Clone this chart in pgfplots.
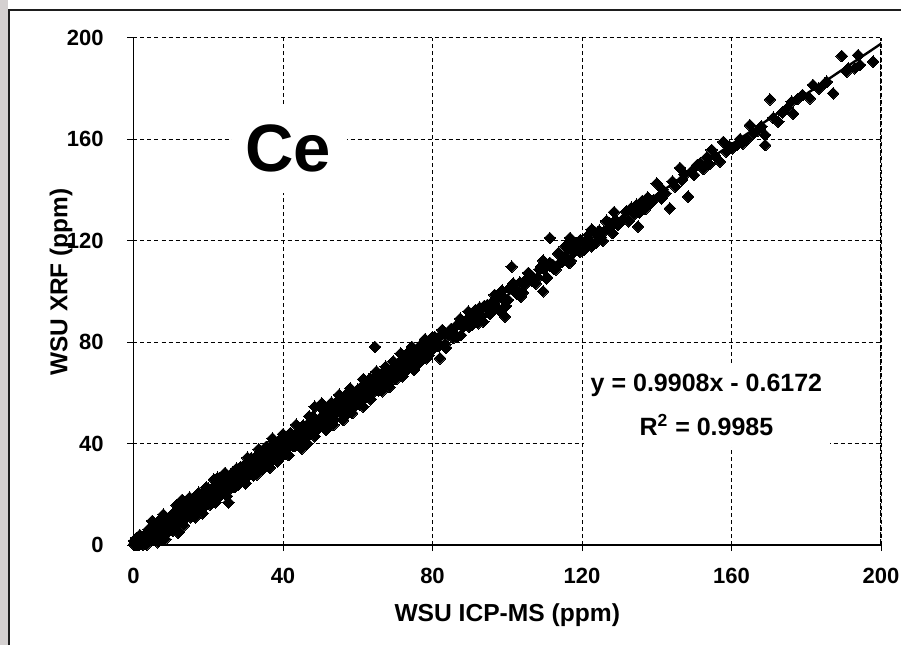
\documentclass[border=0pt]{standalone}
\usepackage{fontspec}
\setmainfont{Liberation Sans}
\usepackage{pgfplots}
\pgfplotsset{compat=1.18}
\definecolor{frameGray}{RGB}{212,208,208}
\definecolor{frameLine}{RGB}{30,30,30}

\begin{document}
\begin{tikzpicture}
\useasboundingbox (0,0) rectangle (450.5pt,-322.5pt);
% window edge on the left and top
\fill[frameGray] (0,0) rectangle (4.1pt,-322.5pt);
\draw[frameLine, line width=1pt] (4.65pt,-322.5pt) -- (4.65pt,-4.85pt) -- (450.5pt,-4.85pt);
\begin{axis}[
  at={(66.75pt,-272.5pt)}, anchor=south west,
  scale only axis, width=373.75pt, height=253.75pt,
  xmin=0, xmax=200, ymin=0, ymax=200,
  xtick={0,40,...,200}, ytick={0,40,...,200},
  axis x line=bottom, axis y line=left,
  axis line style={-, black, line width=0.6pt},
  tick align=outside, major tick length=3pt,
  tick style={black, line width=0.5pt},
  grid=major,
  grid style={black, dash pattern=on 2pt off 1.5pt, line width=0.5pt},
  /pgf/number format/assume math mode=true,
  tick label style={font=\fontsize{11}{13}\selectfont\bfseries, inner sep=0pt},
  xticklabel style={anchor=north},
  yticklabel style={anchor=east},
  xticklabel shift=8.5pt,
  yticklabel shift=11.75pt,
  xlabel={WSU ICP-MS (ppm)},
  ylabel={WSU XRF (ppm)},
  xlabel style={at={(axis description cs:0.5,-0.151)}, anchor=base, inner sep=0pt,
    font=\fontsize{12.3}{14}\selectfont\bfseries},
  ylabel style={at={(axis description cs:-0.0885,0.518)}, anchor=base, inner sep=0pt,
    font=\fontsize{12.2}{14}\selectfont\bfseries},
]
\addplot[only marks, mark=square*, mark size=2.05pt,
  mark options={rotate=45, draw=black, fill=black, line width=0pt}] coordinates {
(0.3,0.0)(0.6,0.1)(0.9,1.15)(1.2,0.15)(1.5,0.3)(1.8,2.4)(2.1,1.45)(2.4,0.95)(2.7,3.5)(3.0,0.9)(3.3,2.5)(3.6,3.6)(3.9,1.25)
(0.5,0.6)(1.0,0.1)(0.2,1.6)(1.7,3.9)(2.5,0.2)(0.8,2.8)(0.1,0.3)
(4.2,4.1)(4.5,6.0)(4.8,3.0)(5.1,1.9)(5.4,5.7)(5.7,7.9)(6.0,4.9)(6.3,2.5)(6.6,7.6)(6.9,4.4)(7.2,6.8)(7.5,9.2)(7.8,5.1)(8.1,6.5)(8.4,10.9)(8.7,4.4)(9.0,9.2)(9.3,10.1)(9.6,6.2)(9.9,9.1)
(10.2,11.5)(10.5,8.4)(10.8,6.9)(11.1,13.1)(11.4,11.1)(11.7,8.8)(12.0,12.5)(12.3,11.0)(12.6,15.3)(12.9,9.2)(13.2,11.5)(13.5,14.6)(13.8,13.1)(14.1,10.8)(14.4,16.0)(14.7,12.3)(15.0,15.0)(15.3,10.9)(15.6,16.0)(15.9,18.0)
(16.2,14.7)(16.5,13.7)(16.8,16.6)(17.1,18.0)(17.4,13.4)(17.7,19.1)(18.0,16.0)(18.3,19.7)(18.6,14.6)(18.9,19.8)(19.2,19.0)(19.5,16.7)(19.8,18.3)(20.1,22.2)(20.4,20.8)(20.7,16.3)(21.0,21.0)(21.3,18.9)(21.6,23.2)(21.9,18.6)
(22.2,21.5)(22.5,23.6)(22.8,21.1)(23.1,19.4)(23.4,26.1)(23.7,22.4)(24.0,24.5)(24.3,21.4)(24.6,24.3)(24.9,26.9)(25.2,21.3)(25.5,23.4)(25.8,27.1)(26.1,25.3)(26.4,23.0)(26.7,27.5)(27.0,27.2)(27.3,23.0)(27.6,30.1)(27.9,26.3)
(28.2,25.5)(28.5,30.2)(28.8,28.4)(29.1,26.6)(29.4,30.4)(29.7,25.9)(30.0,28.9)(30.3,32.5)(30.6,30.9)(30.9,27.7)(31.2,29.4)(31.5,33.0)(31.8,31.7)(32.1,27.5)(32.4,33.1)(32.7,31.8)(33.0,29.5)(33.3,35.6)(33.6,31.4)(33.9,33.3)
(34.2,36.1)(34.5,30.4)(34.8,33.4)(35.1,36.3)(35.4,32.4)(35.7,35.8)(36.0,34.0)(36.3,36.4)(36.6,37.8)(36.9,32.8)(37.2,36.6)(37.5,39.8)(37.8,36.9)(38.1,33.5)(38.4,39.9)(38.7,35.5)(39.0,41.2)(39.3,35.5)(39.6,37.1)(39.9,41.6)(40.2,38.6)
(40.6,35.9)(41.0,41.4)(41.4,40.2)(41.8,39.3)(42.2,43.8)(42.6,39.3)(43.0,41.3)(43.4,39.3)(43.8,44.5)(44.2,40.5)(44.6,41.8)(45.0,40.2)(45.4,47.1)(45.8,42.6)(46.2,46.7)(46.6,47.6)(47.0,43.6)(47.4,45.6)(47.8,49.3)(48.2,45.6)
(48.6,44.7)(49.0,49.3)(49.4,48.9)(49.8,47.6)(50.2,50.1)(50.6,49.1)(51.0,51.6)(51.4,50.6)(51.8,48.7)(52.2,54.3)(52.6,52.4)(53.0,49.2)(53.4,54.3)(53.8,49.5)(54.2,53.5)(54.6,54.7)(55.0,57.3)(55.4,53.3)(55.8,54.7)(56.2,57.4)
(56.6,56.2)(57.0,57.0)(57.4,55.5)(57.8,57.2)(58.2,53.8)(58.6,56.2)(59.0,59.4)(59.4,55.6)(59.8,58.6)(60.2,61.1)(60.6,58.1)(61.0,56.7)(61.4,63.0)(61.8,61.1)(62.2,58.9)(62.6,62.7)(63.0,61.3)(63.4,65.7)(63.8,59.7)(64.2,62.1)
(64.6,65.3)(65.0,63.9)(65.4,61.7)(65.8,67.0)(66.2,63.4)(66.6,66.2)(67.0,62.2)(67.4,67.4)(67.8,69.5)(68.2,66.3)(68.6,65.4)(69.0,68.4)(69.4,69.9)(69.8,65.4)(70.2,71.2)(70.6,68.2)(71.0,70.7)(71.4,68.0)(71.8,72.6)(72.2,70.4)
(72.6,68.1)(73.0,74.5)(73.4,72.4)(73.8,71.2)(74.2,76.1)(74.6,70.7)(75.0,73.7)(75.4,75.7)(75.8,70.8)(76.2,75.7)(76.6,77.7)(77.0,74.8)(77.4,73.8)(77.8,77.7)(78.2,80.0)(78.6,77.1)(79.0,74.8)(79.4,80.0)(79.8,76.9)(80.2,79.4)
(81.0,80.1)(81.8,78.5)(82.6,83.3)(83.4,79.2)(84.2,82.6)(85.0,85.2)(85.8,83.2)(86.6,82.0)(87.4,89.2)(88.2,86.0)(89.0,88.6)(89.8,86.0)(90.6,89.4)(91.4,92.5)(92.2,87.4)(93.0,90.0)(93.8,94.2)(94.6,92.9)(95.4,91.1)(96.2,96.1)
(97.0,96.3)(97.8,92.6)(98.6,100.2)(99.4,96.9)(100.2,96.6)(101.0,101.8)(101.8,100.5)(102.6,99.2)(103.4,103.5)(104.2,99.5)(105.0,103.0)(105.8,107.1)(106.6,106.0)(107.4,103.3)(108.2,105.5)(109.0,109.6)(109.8,108.8)(110.6,105.1)(111.4,111.2)(112.2,110.4)
(113.0,108.6)(113.8,115.2)(114.6,111.5)(115.4,113.9)(116.2,117.2)(117.0,112.0)(117.8,115.5)(118.6,118.9)(119.4,115.5)(120.2,119.4)(121.0,118.1)(121.8,122.3)(122.6,117.7)(123.4,123.4)(124.2,123.1)(125.0,121.3)(125.8,123.4)(126.6,127.8)(127.4,126.9)(128.2,122.9)
(129.0,128.1)(129.8,126.5)
(131.0,128.5)(131.8,131.4)(132.5,127.6)(133.2,132.9)(133.9,130.2)(134.6,134.1)(135.4,131.0)(136.1,135.6)(136.9,132.4)(137.6,137.0)(138.4,134.8)(139.1,135.9)(140.0,142.5)(140.7,137.4)(141.5,140.1)(141.3,136.6)
(142.3,138.6)(143.5,132.7)(144.2,143.3)(145.0,141.2)(146.2,148.6)(146.8,143.9)(147.5,146.0)(148.4,137.3)(149.2,147.1)(150.0,145.8)
(150.8,149.7)(151.6,150.4)(152.5,148.2)(153.3,152.6)(154.1,150.1)(154.7,155.7)(155.6,153.4)(156.9,151.1)(157.8,158.9)(158.6,155.0)(159.4,157.2)(160.2,156.3)
(161.4,157.6)(162.3,160.0)(163.0,158.2)(164.0,159.6)(164.9,165.5)(165.8,162.1)(167.0,163.3)(168.0,165.0)(169.0,161.6)(169.0,157.6)(170.3,175.6)
(171.2,168.4)(172.5,166.8)(173.6,170.5)(174.8,172.0)(176.1,174.7)(176.5,170.0)(177.7,175.8)(179.0,177.4)(181.0,176.0)(181.8,181.3)(183.4,179.9)(185.0,182.0)(185.5,182.6)(187.2,178.0)
(189.5,192.7)(190.8,186.5)(191.2,187.8)(193.0,187.9)(193.9,193.1)(194.4,189.2)(197.9,190.5)
(25.4,16.8)(13.0,17.8)(22.5,26.5)(12.0,4.8)(37.2,42.0)(45.0,38.0)(48.5,54.5)(50.4,55.8)(56.1,49.2)(61.5,54.5)(64.6,78.1)
(82.0,73.6)(99.4,90.0)(101.2,109.7)(109.6,100.0)(111.4,121.0)(116.8,121.0)(135.0,125.5)
(2.0,3.3)(2.5,0.2)(3.0,2.75)(3.5,0.15)(4.0,6.1)(4.5,3.2)(5.0,9.5)(5.5,2.3)(6.0,5.4)(6.5,1.1)(7.0,9.9)(7.5,4.8)(8.0,12.0)(8.5,2.3)(9.0,9.8)(9.5,5.7)(10.0,11.5)(10.5,5.6)(11.0,11.0)(11.5,15.7)
(12.0,8.3)(12.5,11.4)(13.0,15.5)(13.5,7.7)(14.0,15.1)(14.5,12.5)(15.0,18.7)(15.5,11.2)(16.0,15.7)(16.5,10.9)(17.0,18.8)(17.5,20.6)(18.0,15.0)(18.5,12.5)(19.0,19.5)(19.5,22.7)(20.0,18.3)(20.5,16.0)(21.0,22.2)(21.5,25.8)
(22.0,16.8)(22.5,21.7)(23.0,19.6)(23.5,26.2)(24.0,21.6)(24.5,28.4)(25.0,19.3)(25.5,26.4)(26.0,24.5)(26.5,28.5)(27.0,22.9)(27.5,27.1)(28.0,23.9)(28.5,30.5)(29.0,27.5)(29.5,30.4)(30.0,24.3)(30.5,34.4)(31.0,28.6)(31.5,34.2)
(32.0,28.6)(32.5,31.7)(33.0,27.8)(33.5,37.8)(34.0,35.2)(34.5,30.0)(35.0,33.3)(35.5,38.7)(36.0,36.5)(36.5,30.5)(37.0,34.0)(37.5,40.6)(38.0,39.8)(38.5,32.9)(39.0,38.7)(39.5,35.2)(40.0,43.7)(40.5,38.2)(41.0,41.8)(41.5,35.4)
(42.0,44.2)(42.5,41.1)(43.0,39.0)(43.5,47.4)(44.0,43.7)(44.5,39.3)(45.0,46.2)(45.5,41.4)(46.0,46.5)(46.5,40.0)(47.0,50.7)(47.5,44.5)(48.0,50.6)(48.5,42.8)(49.0,48.1)(49.5,46.0)(50.0,54.2)(50.5,48.9)(51.0,52.8)(51.5,45.3)
(52.0,52.0)(52.5,47.6)(53.0,56.1)(53.5,47.3)(54.0,55.8)(54.5,52.9)(55.0,59.2)(55.5,52.0)(56.0,55.1)(56.5,50.8)(57.0,59.6)(57.5,54.5)(58.0,61.7)(58.5,52.0)(59.0,59.5)(59.5,55.4)(60.0,61.2)(60.5,55.3)(61.0,60.7)(61.5,65.4)
(62.0,58.0)(62.5,61.1)(63.0,65.2)(63.5,57.4)(64.0,64.8)(64.5,62.2)(65.0,68.4)(65.5,60.9)(66.0,65.4)(66.5,60.6)(67.0,68.5)(67.5,70.3)(68.0,64.7)(68.5,62.2)(69.0,69.2)(69.5,72.4)(70.0,68.0)(70.5,65.7)(71.0,71.9)(71.5,75.5)
(72.0,66.5)(72.5,71.4)(73.0,69.3)(73.5,75.9)(74.0,71.3)(74.5,78.1)(75.0,69.0)(75.5,76.1)(76.0,74.2)(76.5,78.2)(77.0,72.6)(77.5,76.8)(78.0,81.1)(78.5,73.6)(79.0,79.0)(79.5,76.4)(80.0,81.9)
(80.6,82.0)(81.6,78.5)(82.6,84.8)(83.6,77.7)(84.6,84.3)(85.6,81.6)(86.6,86.8)(87.6,82.7)(88.6,87.6)(89.6,92.0)(90.6,86.7)(91.6,89.8)(92.6,93.6)(93.6,88.0)(94.6,94.5)(95.6,93.0)(96.6,98.6)(97.6,93.2)(98.6,97.4)(99.6,94.2)
(100.6,101.1)(101.6,103.1)(102.6,99.2)(103.6,97.8)(104.6,104.0)(105.6,107.2)(106.6,104.3)(107.6,103.0)(108.6,108.6)(109.6,112.1)(110.6,105.5)(111.6,110.0)(112.6,108.9)(113.6,114.8)(114.6,111.7)(115.6,117.8)(116.6,111.1)(117.6,117.4)(118.6,116.4)(119.6,120.2)
(120.6,116.4)(121.6,120.3)(122.6,124.4)(123.6,119.0)(124.6,123.9)(125.6,119.9)(126.6,127.3)(127.6,125.6)(128.6,131.2)(129.6,126.1)
};
\addplot[black, line width=1.2pt, no marks] coordinates {(0,-0.6172) (200,197.5428)};
% darker right edge of the plot area
\draw[black, line width=0.9pt, dash pattern=on 3pt off 0.6pt] (axis cs:200,0) -- (axis cs:200,200);
\fill[white] (axis cs:26.4,138.7) rectangle (axis cs:57.2,173.4);
\node[anchor=base, inner sep=0pt, font=\fontsize{33.5}{40}\selectfont\bfseries]
  at (axis cs:41.3,147.1) {Ce};
\fill[white] (axis cs:120.5,38.6) rectangle (axis cs:186.4,70.9);
\node[anchor=base, inner sep=0pt, font=\fontsize{12.5}{15}\selectfont\bfseries]
  at (axis cs:153.3,60.4) {y = 0.9908x - 0.6172};
\node[anchor=base, inner sep=0pt, font=\fontsize{12.5}{15}\selectfont\bfseries]
  at (axis cs:153.3,43.35) {R\textsuperscript{2} = 0.9985};
\end{axis}
\end{tikzpicture}
\end{document}
